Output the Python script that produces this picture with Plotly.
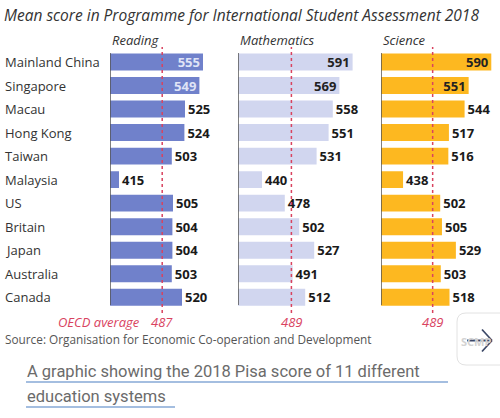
import plotly.graph_objects as go

countries = ["Mainland China", "Singapore", "Macau", "Hong Kong", "Taiwan", "Malaysia",
             "US", "Britain", "Japan", "Australia", "Canada"]
reading = [555, 549, 525, 524, 503, 415, 505, 504, 504, 503, 520]
mathematics = [591, 569, 558, 551, 531, 440, 478, 502, 527, 491, 512]
science = [590, 551, 544, 517, 516, 438, 502, 505, 529, 503, 518]
oecd_avg = [487, 489, 489]
subjects = ["Reading", "Mathematics", "Science"]
inside_count = [2, 2, 2]

W, H = 500, 418
def px(x): return x / W
def py(y): return 1 - y / H

FONT = "Open Sans"
bar_colors = ["#7081cb", "#d1d6ef", "#fdb820"]
inside_text_colors = ["#dfe3f6", "#222222", "#222222"]
domains = [(110, 230), (238, 358), (381, 500)]
ranges = [(400, 600), (400, 600), (400, 605)]
axes = ["x", "x2", "x3"]

fig = go.Figure()
for i, vals in enumerate([reading, mathematics, science]):
    pos = ["inside" if k < inside_count[i] else "outside" for k in range(len(vals))]
    cols = [inside_text_colors[i] if k < inside_count[i] else "#1a1a1a" for k in range(len(vals))]
    fig.add_trace(go.Bar(
        y=countries, x=vals, orientation="h", xaxis=axes[i], yaxis="y",
        marker=dict(color=bar_colors[i], line=dict(width=0)),
        text=[str(v) for v in vals], textposition=pos,
        insidetextanchor="end", constraintext="none", cliponaxis=False,
        textfont=dict(family=FONT, size=13, color=cols, weight="bold"),
        hoverinfo="skip", showlegend=False,
    ))

layout = dict(
    width=W, height=H, margin=dict(l=0, r=0, t=0, b=0),
    paper_bgcolor="white", plot_bgcolor="white", bargap=0.28,
    yaxis=dict(domain=[py(309), py(50.25)], range=[10.5, -0.5], type="category",
               categoryorder="array", categoryarray=countries, visible=False),
)
for i, ax in enumerate(axes):
    key = "xaxis" if ax == "x" else "xaxis" + ax[1:]
    layout[key] = dict(domain=[px(domains[i][0]), px(domains[i][1])], range=list(ranges[i]),
                       visible=False, anchor="y", fixedrange=True)
fig.update_layout(**layout)

shapes = []
annotations = []
for i, ax in enumerate(axes):
    shapes.append(dict(type="line", xref=ax, yref="paper", x0=400, x1=400,
                       y0=py(305), y1=py(53), line=dict(color="#555555", width=1.5)))
    shapes.append(dict(type="line", xref=ax, yref="paper", x0=oecd_avg[i], x1=oecd_avg[i],
                       y0=py(313), y1=py(47), line=dict(color="#d9435f", width=1.5, dash="dot")))
    annotations.append(dict(xref=ax, yref="paper", x=oecd_avg[i], y=py(322), text=str(oecd_avg[i]),
                            showarrow=False, xanchor="center", yanchor="middle",
                            font=dict(family=FONT, size=13, color="#d9435f", style="italic")))
    annotations.append(dict(xref="paper", yref="paper", x=px(domains[i][0]), y=py(40), text=subjects[i],
                            showarrow=False, xanchor="left", yanchor="middle",
                            font=dict(family=FONT, size=13, color="#333333", style="italic")))
annotations.append(dict(xref="x", yref="paper", x=oecd_avg[0], y=py(322), text="OECD average",
                        showarrow=False, xanchor="right", yanchor="middle", xshift=-20,
                        font=dict(family=FONT, size=13, color="#d9435f", style="italic")))

for c in countries:
    annotations.append(dict(xref="paper", yref="y", x=px(3), y=c, text=c, showarrow=False,
                            xanchor="left", yanchor="middle",
                            font=dict(family=FONT, size=13, color="#333333")))

annotations.append(dict(xref="paper", yref="paper", x=px(2), y=py(15),
                        text="Mean score in Programme for International Student Assessment 2018",
                        showarrow=False, xanchor="left", yanchor="middle",
                        font=dict(family=FONT, size=15.5, color="#333333", style="italic")))
annotations.append(dict(xref="paper", yref="paper", x=px(3), y=py(339),
                        text="Source: Organisation for Economic Co-operation and Development",
                        showarrow=False, xanchor="left", yanchor="middle",
                        font=dict(family=FONT, size=11.8, color="#555555")))

annotations.append(dict(xref="paper", yref="paper", x=px(25), y=py(371),
                        text="A graphic showing the 2018 Pisa score of 11 different",
                        showarrow=False, xanchor="left", yanchor="middle",
                        font=dict(family="Roboto", size=16.5, color="#6b6b6b")))
annotations.append(dict(xref="paper", yref="paper", x=px(25), y=py(396),
                        text="education systems",
                        showarrow=False, xanchor="left", yanchor="middle",
                        font=dict(family="Roboto", size=16.5, color="#6b6b6b")))
shapes.append(dict(type="line", xref="paper", yref="paper", x0=px(26), x1=px(448),
                   y0=py(382), y1=py(382), line=dict(color="#86a9d6", width=1.5)))
shapes.append(dict(type="line", xref="paper", yref="paper", x0=px(26), x1=px(175),
                   y0=py(407), y1=py(407), line=dict(color="#86a9d6", width=1.5)))

# next-arrow button
x0, x1, y0, y1, r = 457, 512, 313, 365, 9
path = (f"M {px(x0 + r)} {py(y0)} L {px(x1)} {py(y0)} L {px(x1)} {py(y1)} L {px(x0 + r)} {py(y1)} "
        f"Q {px(x0)} {py(y1)} {px(x0)} {py(y1 - r)} L {px(x0)} {py(y0 + r)} "
        f"Q {px(x0)} {py(y0)} {px(x0 + r)} {py(y0)} Z")
shapes.append(dict(type="path", xref="paper", yref="paper", path=path, layer="below",
                   fillcolor="white", line=dict(color="#e2e2e2", width=1)))
annotations.append(dict(xref="paper", yref="paper", x=px(476), y=py(341), text="SCMP",
                        showarrow=False, xanchor="center", yanchor="middle",
                        font=dict(family=FONT, size=11, color="#d3d3d3", weight="bold")))
shapes.append(dict(type="line", xref="paper", yref="paper", x0=px(467), x1=px(492),
                   y0=py(340.5), y1=py(340.5), line=dict(color="#3a4766", width=2)))
shapes.append(dict(type="line", xref="paper", yref="paper", x0=px(482), x1=px(492),
                   y0=py(329.5), y1=py(340.5), line=dict(color="#3a4766", width=1.7)))
shapes.append(dict(type="line", xref="paper", yref="paper", x0=px(482), x1=px(492),
                   y0=py(351.5), y1=py(340.5), line=dict(color="#3a4766", width=1.7)))

fig.update_layout(shapes=shapes, annotations=annotations)
fig.write_html("out.html", config={"displayModeBar": False},
               post_script="document.body.style.margin='0px';document.body.style.overflow='hidden';")
